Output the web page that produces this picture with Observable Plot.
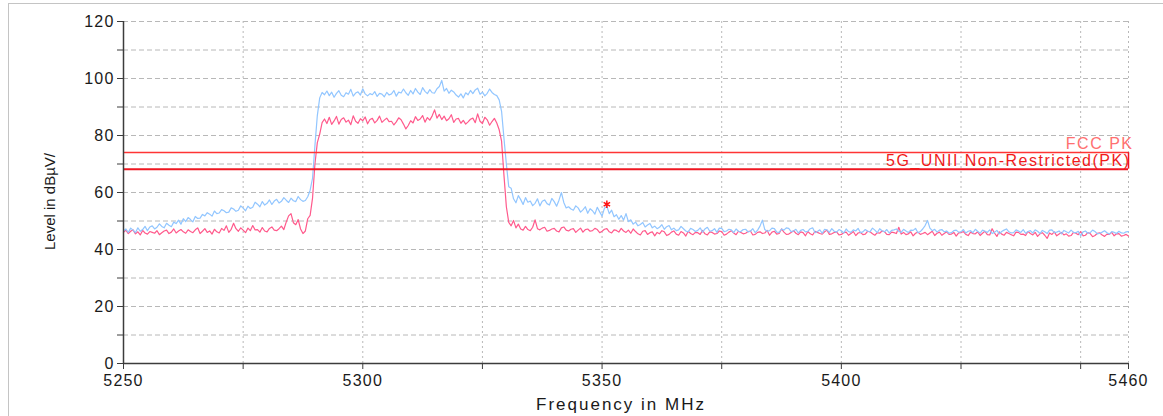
<!DOCTYPE html>
<html><head><meta charset="utf-8">
<script src="https://cdn.jsdelivr.net/npm/d3@7"></script>
<script src="https://cdn.jsdelivr.net/npm/@observablehq/plot@0.6"></script>
<style>
body{margin:0;background:#fff;}
#wrap{position:relative;width:1163px;height:416px;overflow:hidden;background:#fff;}
#frame{position:absolute;left:8px;top:3px;width:1300px;height:600px;border-left:1.5px solid #c4c4c4;border-top:1.5px solid #c4c4c4;}
#chart{position:absolute;left:0;top:0;}
</style></head><body>
<div id="wrap"><div id="frame"></div><div id="chart"></div></div>
<script>
// Sweep: 5250 .. 5460 MHz, one reading every 0.5 MHz
const startMHz = 5250;
const stepMHz = 0.5;

// Blue trace (upper trace)
const blueLevels = [
46.5,47.2, 46.0,47.5, 46.8,45.9, 47.6,46.4, 47.0,48.1, 46.6,47.9, 48.3,47.2, 47.8,49.0, 48.1,47.6, 49.2,48.5,
48.0,49.6, 49.1,50.3, 48.9,50.8, 49.8,51.2, 50.5,49.7, 51.6,50.9, 51.0,52.3, 51.8,52.9, 52.4,51.7, 53.5,52.6,
52.8,54.0, 53.6,52.9, 53.1,54.6, 54.2,53.4, 53.8,55.3, 54.5,53.6, 55.2,54.4, 54.8,56.6, 55.9,55.0, 56.8,55.6,
56.2,57.4, 55.8,57.0, 57.6,56.3, 56.9,58.2, 57.3,56.5, 58.0,57.1, 56.8,58.6, 57.5,56.9, 57.2,58.5, 60.8,65.0,
76.5,87.0, 93.2,95.1,
94.3,95.6, 94.0,95.2, 93.4,94.8, 95.7,94.1, 93.6,95.0, 94.5,96.2, 93.8,94.9, 95.3,94.2, 96.4,94.6, 93.9,94.7,
94.3,95.4, 93.7,94.8, 94.5,93.6, 95.1,94.2, 94.6,95.8, 93.8,95.2, 94.9,96.3, 95.0,94.1, 95.8,94.6, 96.5,95.2,
94.4,96.8, 95.5,94.7, 96.1,95.0, 94.9,96.4, 97.2,99.3, 95.6,96.5, 94.8,95.9, 95.3,94.2, 93.5,94.6, 93.2,95.0,
94.3,95.8, 94.7,96.0, 96.6,94.5, 95.2,93.9, 94.8,96.3, 95.1,94.4, 94.0,92.5,
88.5,79.0, 70.0,62.0, 61.5,57.8,
56.4,58.9, 57.5,55.8, 58.2,56.6, 57.0,55.4, 56.2,57.8, 55.3,56.9, 57.4,56.1, 55.6,57.9, 56.8,55.2, 57.3,60.0,
56.5,54.6, 55.0,54.2, 53.8,55.3, 54.6,53.1, 53.9,55.0, 52.7,54.3, 53.6,52.4, 54.8,53.2, 51.7,54.5, 55.2,52.6,
53.8,51.5, 52.2,50.6, 51.9,50.3, 52.6,49.8, 50.4,48.9, 49.6,48.3, 48.8,49.5, 47.9,48.6, 49.1,47.6, 48.2,47.3,
47.8,48.7, 47.1,48.0, 48.4,46.9, 47.5,46.6, 46.9,48.1, 47.3,46.5, 46.2,47.4, 47.0,46.3, 46.7,47.6, 46.1,47.2,
47.8,46.4, 46.6,47.3, 46.0,47.5, 47.4,46.3, 46.5,47.1, 46.9,45.9, 47.2,46.4, 46.3,47.0, 47.1,46.2, 46.4,47.3,
45.9,46.8, 48.2,50.3, 47.0,46.4, 46.6,47.5, 47.3,46.1, 46.0,47.2, 46.8,47.6, 47.4,46.3, 46.5,47.1, 45.8,46.7,
47.0,46.2, 46.4,47.3, 47.6,45.9, 46.3,46.9, 45.7,47.1, 46.9,46.0, 47.3,46.4, 46.1,47.0, 46.6,45.8, 47.2,46.3,
46.0,46.9, 46.5,47.4, 45.9,46.2, 47.0,46.4, 46.3,47.5, 46.8,45.9, 47.3,46.6, 46.2,47.0, 45.8,46.7, 46.9,47.2,
46.4,46.0, 47.1,46.5, 46.0,46.8, 46.7,47.4, 45.9,46.3, 47.2,48.4, 50.2,47.5, 46.6,47.1, 46.1,46.8, 47.0,46.2,
46.5,45.7, 45.9,46.6, 46.8,46.1, 46.2,47.0, 45.8,46.4, 46.6,45.9, 47.1,46.3, 45.7,46.8, 46.4,46.0, 46.9,45.6,
46.0,46.7, 45.5,46.3, 46.8,47.2, 46.2,45.8, 45.9,46.9, 46.5,46.0, 47.0,45.7, 46.3,46.6, 45.8,46.9, 46.4,45.6,
46.7,46.2, 45.6,46.8, 46.9,45.9, 46.1,46.5, 45.5,46.7, 46.2,45.8, 46.8,46.0, 45.9,46.4, 44.8,46.2, 46.5,45.7,
45.9,46.8, 46.3,45.5, 45.7,46.1, 46.6,45.9, 45.4,46.3, 46.0,45.6, 46.4,45.8, 45.7,46.2, 46.3
];

// Pink trace (lower trace)
const pinkLevels = [
46.0,46.8, 45.6,46.4, 46.9,45.5, 46.2,45.1, 46.7,45.8, 45.4,46.3, 46.0,45.7, 46.6,45.2, 45.9,46.5, 46.8,45.6,
46.1,47.2, 45.8,46.5, 47.0,46.2, 45.7,46.9, 46.3,45.9, 46.9,47.6, 45.6,46.4, 47.3,46.0, 46.5,45.4, 47.1,46.2,
45.8,47.4, 46.7,48.3, 46.0,47.1, 49.2,47.3, 46.4,47.6, 46.8,45.9, 47.5,46.6, 48.4,46.9, 47.0,46.1, 47.7,46.5,
46.2,47.4, 47.9,46.8, 46.6,47.3, 48.2,47.0, 49.6,51.8, 52.6,49.4, 48.7,50.5, 47.2,45.6, 46.5,50.8, 52.0,58.0,
70.0,77.5, 80.5,84.5,
85.8,84.2, 86.4,83.9, 85.1,86.7, 84.0,85.6, 86.2,84.7, 85.4,83.8, 86.9,85.0, 84.3,85.9, 85.2,86.5, 84.1,85.6,
86.0,84.4, 85.3,86.8, 84.6,85.4, 86.1,84.9, 85.0,83.7, 84.8,86.2, 85.5,84.0, 82.3,83.5, 85.2,84.4, 86.6,85.3,
85.8,87.0, 84.7,86.3, 85.4,86.9, 89.0,86.1, 87.4,85.6, 86.8,85.2, 85.9,87.3, 84.6,85.8, 86.0,84.3, 85.3,84.0,
84.8,85.7, 86.1,84.5, 87.6,85.0, 84.2,86.4, 85.5,83.6, 84.9,86.0, 84.4,82.0,
78.0,66.0, 55.0,49.5, 48.3,50.2,
47.6,48.9, 47.2,46.8, 48.1,47.0, 46.6,47.8, 50.4,47.3, 46.9,47.5, 47.8,46.4, 46.7,47.2, 47.4,46.5, 46.2,47.6,
47.9,46.8, 46.5,47.1, 47.3,46.0, 46.8,47.5, 46.1,47.0, 47.2,46.4, 46.6,47.4, 47.0,45.9, 46.4,47.1, 47.3,46.2,
45.8,46.9, 46.7,46.1, 47.4,46.5, 46.0,46.8, 45.7,47.2, 46.3,45.5, 45.1,46.4, 46.6,45.3, 45.9,46.2, 44.8,46.0,
45.5,46.6, 46.2,44.9, 45.3,46.1, 46.5,45.4, 45.0,46.3, 45.8,44.7, 46.4,45.6, 45.2,46.0, 45.9,45.3, 46.7,45.5,
45.1,46.2, 46.0,45.4, 45.6,46.5, 46.3,45.0, 45.4,46.1, 46.6,45.8, 45.2,46.4, 46.0,45.5, 45.7,46.3, 46.5,45.1,
45.3,46.0, 46.2,45.6, 45.8,46.7, 45.0,46.1, 46.4,45.4, 45.6,47.2, 46.1,45.3, 45.4,46.0, 46.6,45.7, 45.2,46.2,
45.9,44.8, 46.3,45.5, 45.1,46.4, 46.0,45.6, 45.4,46.2, 46.8,45.3, 45.5,46.0, 46.2,45.1, 45.3,45.9, 46.1,45.0,
45.6,46.3, 44.9,45.8, 46.0,45.2, 45.4,46.4, 46.2,45.5, 45.0,45.9, 45.7,46.5, 46.3,45.3, 45.2,46.1, 45.9,45.6,
47.8,45.4, 46.0,45.2, 45.5,46.2, 44.8,45.7, 46.1,45.3, 45.6,46.0, 45.2,45.8, 46.4,44.9, 45.7,46.1, 45.0,45.6,
46.2,45.3, 45.4,46.0, 44.7,45.8, 45.9,46.3, 45.3,44.9, 46.1,45.6, 45.5,46.2, 44.9,45.7, 46.4,45.2, 45.1,47.3,
45.8,44.6, 46.2,45.4, 45.0,46.0, 45.6,45.2, 44.8,46.1, 46.0,45.3, 45.4,44.9, 46.3,45.6, 45.1,46.0, 44.6,45.5,
45.9,45.0, 43.9,45.8, 45.3,46.2, 44.8,45.4, 46.0,45.1, 45.5,44.7, 44.9,46.0, 45.7,45.2, 46.3,44.8, 45.0,45.9,
45.6,44.5, 44.9,45.7, 45.8,45.1, 44.6,45.4, 45.3,46.0, 44.8,45.5, 45.6,44.7, 44.9,45.3, 44.7
];

// Limit lines
const limitNames  = ["FCC PK", "5G_UNII Non-Restricted(PK)"];
const limitLevels = [74, 68.2];
const limitLineColors = ["#ff3434", "#ee1620"];
const limitTextColors = ["#ff7070", "#f01a1a"];

// Marker
const markerFreq  = [5351];
const markerLevel = [55.9];

// Axes
const xTickValues  = [5250, 5275, 5300, 5325, 5350, 5375, 5400, 5425, 5450, 5460];
const xTickLabels  = [5250, 5300, 5350, 5400, 5460];
const xGridValues  = [5275, 5300, 5325, 5350, 5375, 5400, 5425, 5450, 5460];
const yTickValues  = [0, 10, 20, 30, 40, 50, 60, 70, 80, 90, 100, 110, 120];
const yTickLabels  = [0, 20, 40, 60, 80, 100, 120];
const yGridValues  = [10, 20, 30, 40, 50, 60, 70, 80, 90, 100, 110, 120];
const xTitle = "Frequency in MHz";
const yTitle = "Level in dBµV/";

const blue = blueLevels.map((v, i) => ({f: startMHz + i * stepMHz, v}));
const pink = pinkLevels.map((v, i) => ({f: startMHz + i * stepMHz, v}));
const limits = limitNames.map((name, i) => ({name, v: limitLevels[i], line: limitLineColors[i], txt: limitTextColors[i], w: i === 0 ? 1.5 : 2}));
const markers = markerFreq.map((f, i) => ({f, v: markerLevel[i]}));

const axisColor = "#3c3c3c";

const chart = Plot.plot({
  width: 1163,
  height: 416,
  marginTop: 21,
  marginRight: 35,
  marginBottom: 53,
  marginLeft: 123,
  style: {fontFamily: "'Liberation Sans', Arial, sans-serif", fontSize: "16px", color: "#1a1a1a", background: "transparent", overflow: "visible"},
  x: {domain: [5250, 5460]},
  y: {domain: [0, 120]},
  marks: [
    Plot.gridY(yGridValues, {stroke: "#b8b8b8", strokeOpacity: 1, strokeDasharray: "5,3", strokeWidth: 1}),
    Plot.gridX(xGridValues, {stroke: "#b8b8b8", strokeOpacity: 1, strokeDasharray: "2,3", strokeWidth: 1}),
    Plot.line(pink, {x: "f", y: "v", stroke: "#ff5a8c", strokeWidth: 1.2}),
    Plot.line(blue, {x: "f", y: "v", stroke: "#92c6ff", strokeWidth: 1.2}),
    Plot.ruleY(limits, {y: "v", stroke: "line", strokeWidth: "w"}),
    Plot.ruleX([5460], {y1: limitLevels[1], y2: limitLevels[0], stroke: "#ee1620", strokeWidth: 1.5}),
    Plot.text(limits.slice(0, 1), {x: () => 5460, y: "v", text: "name", fill: "txt", textAnchor: "end", lineAnchor: "bottom", dx: 5, dy: -4, fontSize: 16}),
    Plot.text(limits.slice(1, 2), {x: () => 5460, y: "v", text: "name", fill: "txt", textAnchor: "end", lineAnchor: "bottom", dx: 2, dy: -3, fontSize: 16}),
    Plot.dot(markers, {x: "f", y: "v", symbol: "asterisk", stroke: "#ff1010", fill: "#ff1010", r: 3.5, strokeWidth: 1.5}),
    Plot.ruleX([5250], {stroke: axisColor, strokeWidth: 1.5}),
    Plot.ruleY([0], {stroke: axisColor, strokeWidth: 1.5}),
    Plot.axisY(yTickValues, {tickSize: 6, tickPadding: 3, stroke: axisColor, label: null,
      tickFormat: d => yTickLabels.includes(d) ? String(d) : ""}),
    Plot.axisX(xTickValues, {tickSize: 6, tickPadding: 5, stroke: axisColor, label: null,
      tickFormat: d => xTickLabels.includes(d) ? String(d) : ""}),
    Plot.text([yTitle], {frameAnchor: "left", textAnchor: "middle", lineAnchor: "middle", dx: -73, dy: 9, rotate: -90, text: d => d, fontSize: 15, fill: "#1a1a1a"}),
    Plot.text([xTitle], {frameAnchor: "bottom", textAnchor: "middle", lineAnchor: "middle", dx: -5, dy: 41, text: d => d, fontSize: 17, fill: "#1a1a1a"})
  ]
});
d3.select(chart).selectAll("text").each(function() {
  const t = this.textContent;
  if (t === yTitle) return;
  if (t === xTitle) d3.select(this).style("letter-spacing", "2px");
  else if (limitNames.includes(t)) d3.select(this).style("letter-spacing", "1.5px");
  else d3.select(this).style("letter-spacing", "1.2px");
});
document.getElementById("chart").appendChild(chart);
</script>
</body></html>
